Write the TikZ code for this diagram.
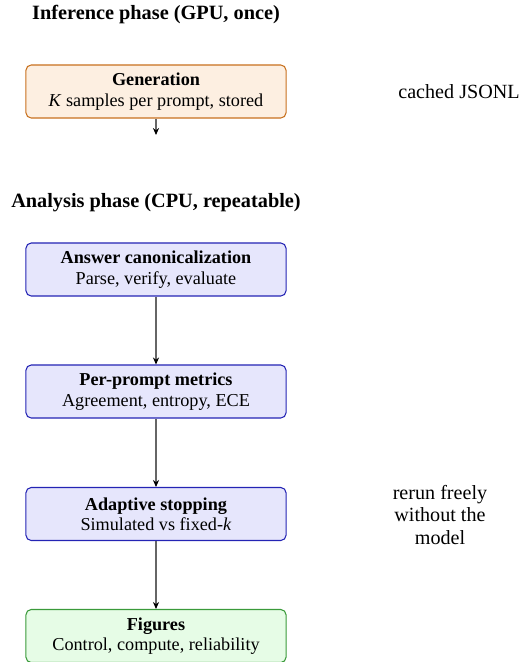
\documentclass[tikz,border=0pt]{standalone}
\usepackage{fontspec}
\setmainfont{Liberation Serif}
\usetikzlibrary{arrows.meta}
\definecolor{genfill}{HTML}{FDEFE1}
\definecolor{gendraw}{HTML}{C8711E}
\definecolor{anfill}{HTML}{E6E6FC}
\definecolor{andraw}{HTML}{2424B4}
\definecolor{figfill}{HTML}{E6FCE6}
\definecolor{figdraw}{HTML}{3A9A3A}
\tikzset{
  stagebox/.style={rectangle, rounded corners=3pt, line width=0.6pt, align=center,
    minimum width=148.6pt, minimum height=30.3pt, inner sep=2pt, font=\fontsize{10.4}{11.6}\selectfont},
  genbox/.style={stagebox, fill=genfill, draw=gendraw},
  anbox/.style={stagebox, fill=anfill, draw=andraw},
  figbox/.style={stagebox, fill=figfill, draw=figdraw},
  phase/.style={font=\fontsize{11.6}{13}\selectfont\bfseries},
  note/.style={font=\fontsize{11.5}{12.6}\selectfont, align=center},
  flow/.style={draw=black!60, line width=0.6pt, -{Stealth[black, length=4pt, width=3.5pt]}}
}
\begin{document}
\begin{tikzpicture}[x=0.5714pt, y=-0.5714pt]
\useasboundingbox (0,0) rectangle (522,662);
\node[phase] (t1) at (156,15) {Inference phase (GPU, once)};
\node[genbox] (gen) at (156,91.5) {\textbf{Generation}\\\textit{K} samples per prompt, stored};
\coordinate (genend) at (156,135);
\draw[flow] (gen.south) -- (genend);
\node[note] (cache) at (459,92) {cached JSONL};
\node[phase] (t2) at (156,203) {Analysis phase (CPU, repeatable)};
\node[anbox] (ans) at (156,269.5) {\textbf{Answer canonicalization}\\Parse, verify, evaluate};
\node[anbox] (per) at (156,391.5) {\textbf{Per-prompt metrics}\\Agreement, entropy, ECE};
\node[anbox] (ada) at (156,514) {\textbf{Adaptive stopping}\\Simulated vs fixed-\textit{k}};
\node[figbox] (fig) at (156,636) {\textbf{Figures}\\Control, compute, reliability};
\node[note] (rerun) at (440,515) {rerun freely\\without the\\model};
\draw[flow] (ans) -- (per);
\draw[flow] (per) -- (ada);
\draw[flow] (ada) -- (fig);
\end{tikzpicture}
\end{document}
